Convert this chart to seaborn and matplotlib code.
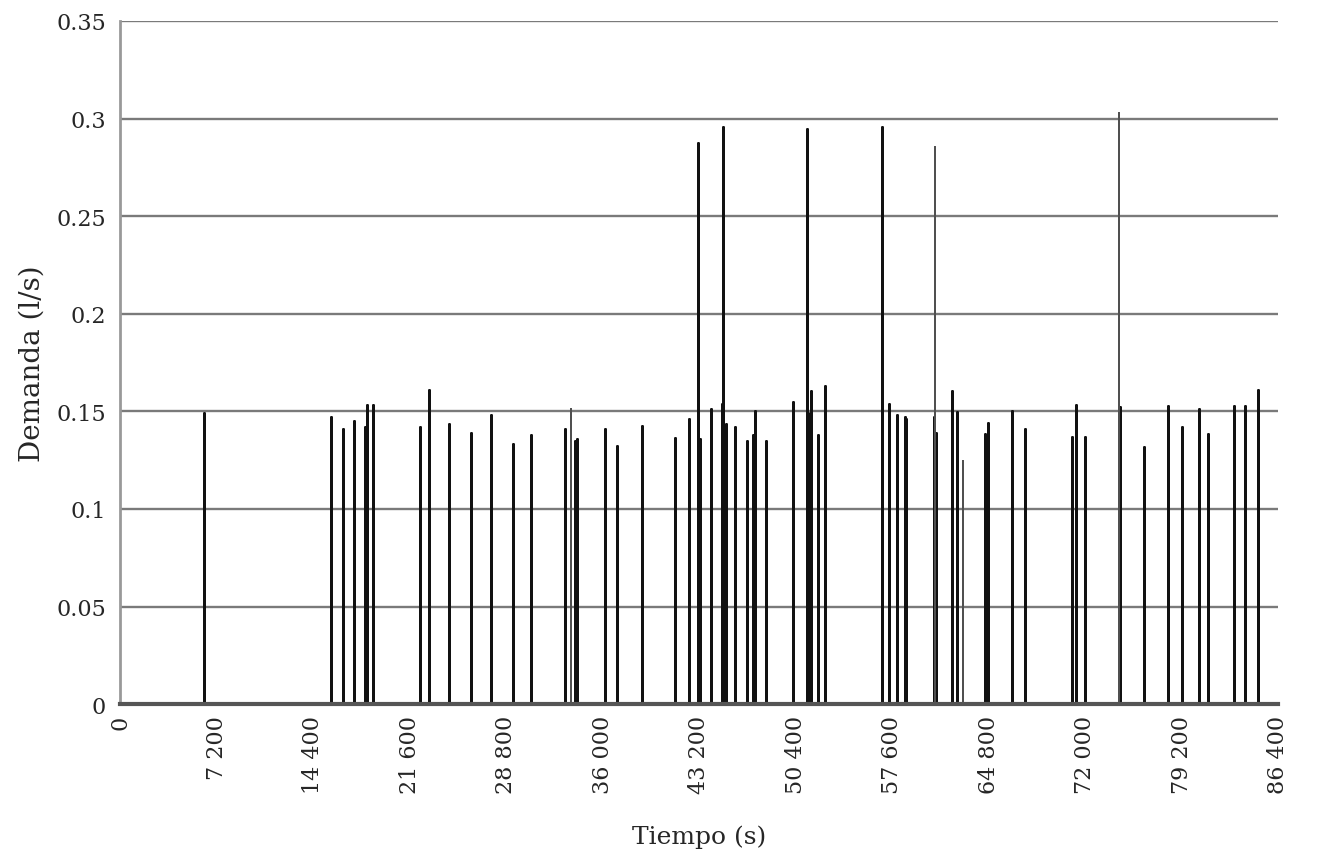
import numpy as np
import pandas as pd
import matplotlib
matplotlib.use("Agg")
import matplotlib.pyplot as plt
import seaborn as sns
from matplotlib.ticker import FuncFormatter

## Demand pulses (time in s, demand in l/s)
pulse_time = [6290, 15720, 16610, 17480, 18280, 18400, 18870, 22380, 23080, 24570,
              26190, 27650, 29340, 30660, 33200, 33940, 34120, 36180, 37100, 38960,
              41380, 42470, 43140, 43270, 44090, 44890, 44960, 45190, 45880, 46750,
              47200, 47370, 48190, 50190, 51230, 51300, 51560, 52100, 52600, 56880,
              57370, 57940, 58560, 58650, 60750, 60850, 62040, 62460, 64530, 64780,
              66520, 67510, 70990, 71320, 71990, 74580, 76390, 78160, 79200, 80490,
              81190, 83100, 83930, 84870]
pulse_demand = [0.149, 0.147, 0.141, 0.145, 0.142, 0.153, 0.153, 0.142, 0.161, 0.1435,
                0.139, 0.148, 0.1335, 0.138, 0.141, 0.135, 0.136, 0.141, 0.132, 0.1425,
                0.1365, 0.146, 0.2875, 0.136, 0.151, 0.154, 0.2955, 0.1435, 0.142, 0.135,
                0.138, 0.150, 0.135, 0.155, 0.2945, 0.149, 0.1605, 0.138, 0.163, 0.2955,
                0.154, 0.148, 0.147, 0.146, 0.147, 0.139, 0.1605, 0.1495, 0.1385, 0.144,
                0.150, 0.141, 0.137, 0.1535, 0.137, 0.152, 0.1315, 0.1525, 0.142, 0.151,
                0.1385, 0.1525, 0.1525, 0.161]

## Thinner grey pulses
thin_time = [33620, 60800, 62860, 74550]
thin_demand = [0.151, 0.2855, 0.1245, 0.303]

x_ticks = list(range(0, 86401, 7200))
y_ticks = [0, 0.05, 0.1, 0.15, 0.2, 0.25, 0.3, 0.35]


def spikes(t, v):
    ## each pulse goes 0 -> value -> 0 at the same instant
    t = np.asarray(t, dtype=float)
    v = np.asarray(v, dtype=float)
    z = np.zeros_like(v)
    return pd.DataFrame({"Tiempo": np.repeat(t, 3),
                         "Demanda": np.column_stack([z, v, z]).ravel()})


df_main = spikes(pulse_time, pulse_demand)
df_thin = spikes(thin_time, thin_demand)

sns.set_style("white")
plt.rcParams["font.family"] = ["DejaVu Serif"]

fig = plt.figure(figsize=(13.19, 8.62), dpi=100)
ax = fig.add_axes([0.091, 0.182, 0.878, 0.7925])

for yv in y_ticks:
    ax.axhline(yv, color="#7a7a7a", lw=1.7, zorder=0)

sns.lineplot(data=df_main, x="Tiempo", y="Demanda", estimator=None, sort=False,
             color="#111111", lw=2.0, ax=ax)
sns.lineplot(data=df_thin, x="Tiempo", y="Demanda", estimator=None, sort=False,
             color="#505050", lw=1.2, ax=ax)

ax.set_xlim(0, 86400)
ax.set_ylim(0, 0.35)
ax.set_xticks(x_ticks)
ax.set_yticks(y_ticks)
ax.xaxis.set_major_formatter(FuncFormatter(lambda v, p: f"{int(v):,}".replace(",", " ")))
ax.yaxis.set_major_formatter(FuncFormatter(lambda v, p: f"{v:g}"))
ax.tick_params(axis="x", labelrotation=90, labelsize=16, length=5, width=1.2,
               color="#999999", pad=3)
ax.tick_params(axis="y", labelsize=16, length=8, width=1.2, color="#808080", pad=2)
for lab in ax.get_xticklabels():
    lab.set_verticalalignment("top")

sns.despine(ax=ax, top=True, right=True)
ax.spines["left"].set_color("#999999")
ax.spines["left"].set_linewidth(2)
ax.spines["bottom"].set_color("#555555")
ax.spines["bottom"].set_linewidth(3)
ax.spines["bottom"].set_zorder(5)

ax.set_xlabel("Tiempo (s)", fontsize=18, labelpad=22)
ax.set_ylabel("Demanda (l/s)", fontsize=20, labelpad=8)

fig.savefig("out.png", dpi=100, facecolor="white")
